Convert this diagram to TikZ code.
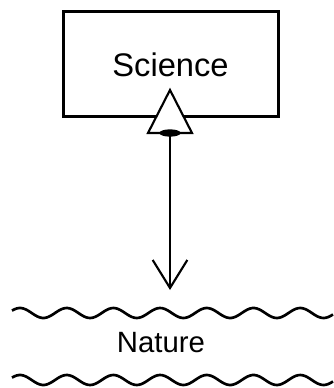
\documentclass[tikz,border=0pt]{standalone}
\usepackage{fontspec}
\setmainfont{Liberation Sans}
\usetikzlibrary{
    arrows.meta,
    positioning,
    shapes.geometric
}
\tikzset{
  thing/.style  = {draw, line width=2.25pt, minimum width=161.25pt,
                   minimum height=78.75pt, inner sep=0pt,
                   font=\fontsize{24.5}{28}\selectfont},
  realm/.style  = {inner sep=0pt, font=\fontsize{22}{26}\selectfont},
  wave/.style   = {line width=2pt, line join=round}
}

\begin{document}
\begin{tikzpicture}[
    x=0.75pt, y=-0.75pt,
    eye/.style={ellipse, fill=black, inner sep=0pt,
                minimum width=16pt, minimum height=5.5pt},
    arr/.style={-{Straight Barb[length=21pt, width=26pt]}, line width=1.6pt}
]
\useasboundingbox (0,0) rectangle (333,388);

% science box
\node[thing] (science) at (170.5,64.5) {Science};

% eye on the lower edge
\draw[line width=1.6pt, fill=white, line join=miter]
    (148,133) -- (170,90) -- (192,133) -- cycle;
\node[eye] (eye) at (170,133) {};

% nature between two waves
\node[realm] (nature) at (161,343) {Nature};
\draw[wave] plot[domain=12:333, samples=140, smooth]
    (\x, {313 - 5*cos(7.709*(\x-20))});
\draw[wave] plot[domain=12:333, samples=140, smooth]
    (\x, {380 - 5*cos(7.709*(\x-20))});

% observation arrow
\coordinate (tip) at (170,290);
\draw[arr] (eye.center) -- (tip);

\end{tikzpicture}
\end{document}
